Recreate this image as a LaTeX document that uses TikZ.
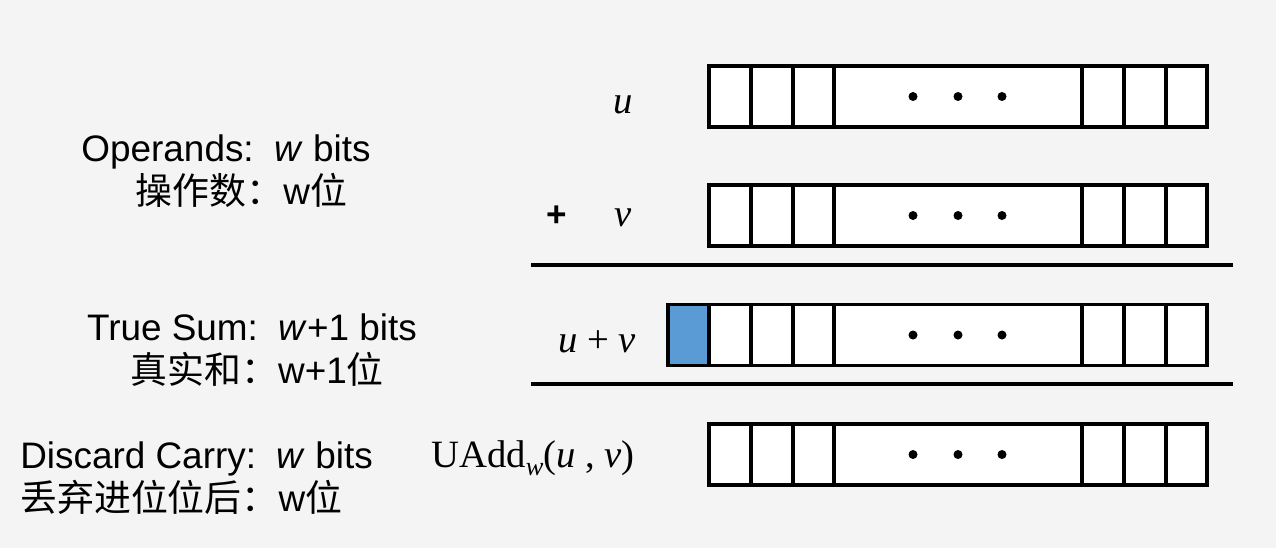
\documentclass[tikz,border=0pt]{standalone}
\usepackage{fontspec}
\setmainfont{Liberation Serif}
\setsansfont{Liberation Sans}
\newfontfamily\cjk{Noto Sans CJK SC}
\usetikzlibrary{positioning}
\definecolor{bgray}{HTML}{F4F4F4}
\definecolor{carry}{HTML}{5B9BD5}

\begin{document}
\begin{tikzpicture}[x=0.02cm,y=-0.02cm,
	reg/.style={draw,fill=white,line width=2pt,inner sep=0pt,outer sep=0pt,minimum width=9.96cm,minimum height=1.22cm},
	bitcell/.style={draw,line width=2pt,inner sep=0pt,outer sep=0pt,minimum width=0.82cm,minimum height=1.22cm},
	rule/.style={line width=2pt},
	side/.style={font=\sffamily\fontsize{21}{24.4}\selectfont,inner sep=0pt},
	expr/.style={font=\rmfamily\fontsize{22}{26}\selectfont,inner sep=0pt}]
	\fill[bgray] (0,0) rectangle (1276,548);
	% registers
	\node[reg] (regu) at (958,96.5) {};
	\node[reg] (regv) at (958,215.5) {};
	\node[reg] (regs) at (958,335) {};
	\node[reg] (regadd) at (958,454.5) {};
	\node[bitcell,fill=carry,anchor=east] (carrybit) at (regs.west) {};
	\foreach \r in {regu,regv,regs,regadd}{
		\foreach \d in {42,84,125,373,415,457}
		\draw[rule] ([xshift=\d*0.02cm]\r.north west) -- ([xshift=\d*0.02cm]\r.south west);
		\foreach \dx in {-45,0,44}
		\fill ([xshift=\dx*0.02cm]\r.center) circle (0.09cm);
	}
	% sum rules
	\coordinate (ruleAa) at (531,265);
	\coordinate (ruleAb) at (1233,265);
	\coordinate (ruleBa) at (531,384);
	\coordinate (ruleBb) at (1233,384);
	\draw[rule] (ruleAa) -- (ruleAb);
	\draw[rule] (ruleBa) -- (ruleBb);
	% operand labels
	\node[expr] (lu) at (623,105) {\textit{u}};
	\node[side,font=\sffamily\bfseries\fontsize{20}{24}\selectfont] (lplus) at (557,216) {+};
	\node[expr] (lv) at (623,218) {\textit{v}};
	\node[expr] (lsum) at (597,342) {\textit{u} + \textit{v}};
	\node[expr] (ladd) at (533,458) {UAdd\raisebox{-0.45ex}{\fontsize{15}{15}\selectfont\textit{w}}(\textit{u} , \textit{v})};
	% side notes
	\node[side,align=center] (nops) at (226,171) {Operands:\ \ \textit{w} bits\\ \ \ \ {\cjk 操作数：}w{\cjk 位}};
	\node[side,align=center] (ntrue) at (252,350) {True Sum:\ \ \textit{w}+1 bits\\ \ {\cjk 真实和：}w+1{\cjk 位}};
	\node[side,align=left,anchor=west] (ndisc) at (20,478) {Discard Carry:\ \ \textit{w} bits\\{\cjk 丢弃进位位后：}w{\cjk 位}};
\end{tikzpicture}
\end{document}
